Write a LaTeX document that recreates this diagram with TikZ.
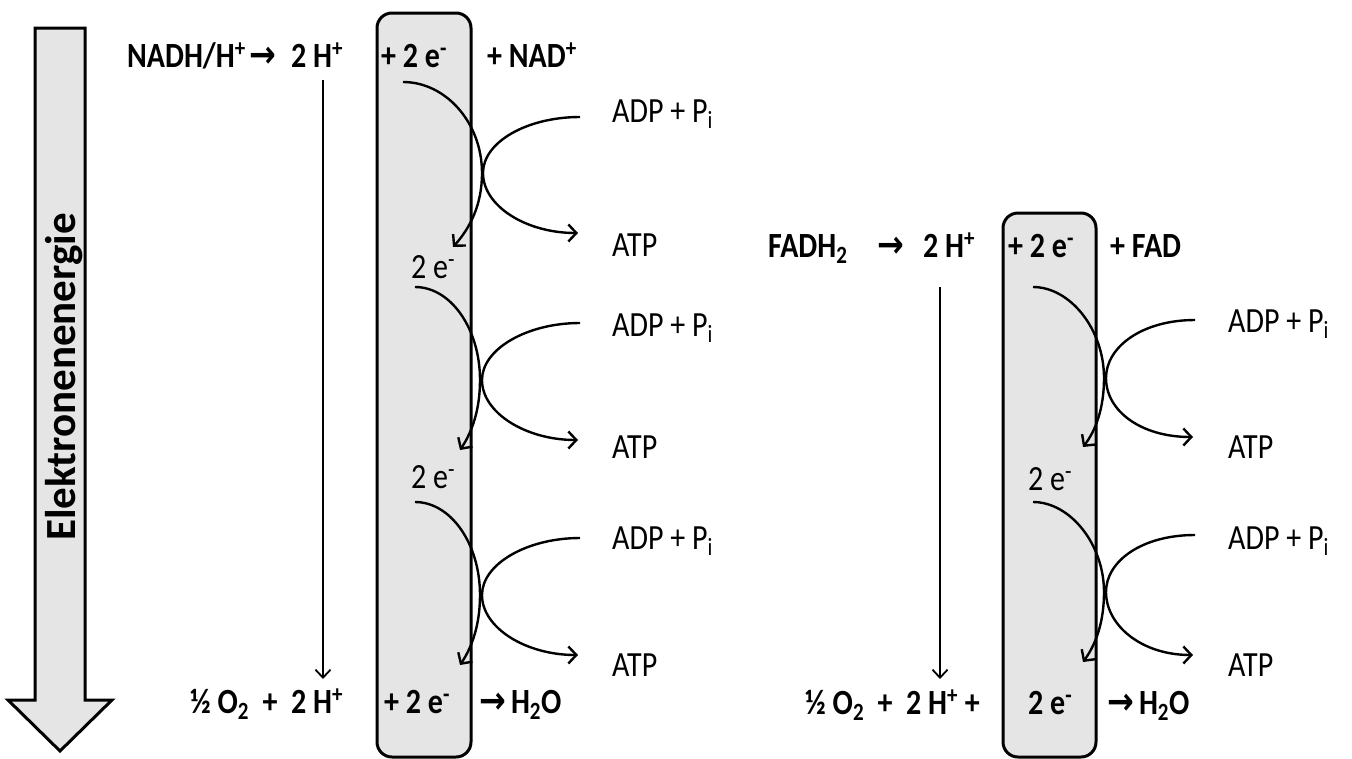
\documentclass[tikz,border=0pt]{standalone}
\usepackage{fontspec}
\setmainfont{Carlito}
\newfontfamily\symf{DejaVu Sans}
\usetikzlibrary{arrows.meta}
\newcommand{\rar}{{\symf\bfseries\fontsize{32}{34}\selectfont →}}
\newcommand{\T}[1]{\scalebox{1}[1.18]{#1}}
\begin{document}
\begin{tikzpicture}[x=1pt,y=-1pt,
  txt/.style={inner sep=0pt, anchor=base west, font=\fontsize{30}{36}\selectfont},
  btxt/.style={inner sep=0pt, anchor=base west, font=\fontsize{30}{36}\selectfont\bfseries},
  pillar/.style={draw=black, line width=3pt, fill=black!10, rounded corners=15pt},
  flow/.style={line width=2.4pt, -{Straight Barb[length=8pt,width=17pt,line width=2.4pt]}},
  thin/.style={line width=1.8pt, -{Straight Barb[length=8pt,width=15pt,line width=1.8pt]}}]
\useasboundingbox (0,0) rectangle (1352,758);

% energy arrow
\draw[line width=3pt, fill=black!10, line join=miter]
  (35,28) -- (85,28) -- (85,700) -- (112,700) -- (60,751) -- (8,700) -- (35,700) -- cycle;
\node[rotate=90, anchor=base, inner sep=0pt, font=\fontsize{43}{48}\selectfont\bfseries] (energy) at (75,377) {Elektronenenergie};

% boxes
\draw[pillar] (377,13) rectangle (471,757);
\draw[pillar] (1003,213) rectangle (1096,757);

% left top row
\node[btxt] (nadh) at (127,67) {\T{NADH/H\textsuperscript{+}}};
\node[btxt] (ar1) at (249,67) {\T{\rar}};
\node[btxt] (hL) at (291,67) {\T{2 H\textsuperscript{+}}};
\node[btxt] (eL) at (381,67) {\T{+ 2 e\textsuperscript{-}}};
\node[btxt] (nad) at (487,67) {\T{+ NAD\textsuperscript{+}}};
% left bottom row
\node[btxt] (o2L) at (190,713) {\T{½ O\textsubscript{2}~~+~~2 H\textsuperscript{+}}};
\node[btxt] (ebL) at (384,713) {\T{+ 2 e\textsuperscript{-}}};
\node[btxt] (h2oL) at (479,713) {\T{\rar\,H\textsubscript{2}O}};

% right top row
\node[btxt] (fadh) at (768,257) {\T{FADH\textsubscript{2}}};
\node[btxt] (ar2) at (877,257) {\T{\rar}};
\node[btxt] (hR) at (923,257) {\T{2 H\textsuperscript{+}}};
\node[btxt] (eR) at (1008,257) {\T{+ 2 e\textsuperscript{-}}};
\node[btxt] (fad) at (1110,257) {\T{+ FAD}};
% right bottom row
\node[btxt] (o2R) at (805,714) {\T{½ O\textsubscript{2}~~+~~2 H\textsuperscript{+} +}};
\node[btxt] (ebR) at (1028,714) {\T{2 e\textsuperscript{-}}};
\node[btxt] (h2oR) at (1107,714) {\T{\rar\,H\textsubscript{2}O}};

% left labels
\node[txt] (adpL1) at (612,122) {\T{ADP + P\textsubscript{i}}};
\node[txt] (atpL1) at (612,256) {\T{ATP}};
\node[txt] (eL2) at (411,278) {\T{2 e\textsuperscript{-}}};
\node[txt] (adpL2) at (612,336) {\T{ADP + P\textsubscript{i}}};
\node[txt] (atpL2) at (612,458) {\T{ATP}};
\node[txt] (eL3) at (411,488) {\T{2 e\textsuperscript{-}}};
\node[txt] (adpL3) at (612,549) {\T{ADP + P\textsubscript{i}}};
\node[txt] (atpL3) at (612,676) {\T{ATP}};

% right labels
\node[txt] (adpR1) at (1228,332) {\T{ADP + P\textsubscript{i}}};
\node[txt] (atpR1) at (1228,458) {\T{ATP}};
\node[txt] (eR2) at (1028,490) {\T{2 e\textsuperscript{-}}};
\node[txt] (adpR2) at (1228,549) {\T{ADP + P\textsubscript{i}}};
\node[txt] (atpR2) at (1228,676) {\T{ATP}};

% vertical H+ arrows
\coordinate (vL1) at (323,80);  \coordinate (vL2) at (323,679);
\coordinate (vR1) at (940,287); \coordinate (vR2) at (940,679);
\draw[thin] (vL1) -- (vL2);
\draw[thin] (vR1) -- (vR2);

% left curved arrows
\draw[flow] (403,82) .. controls (446,82) and (482,123) .. (482,173)
                     .. controls (482,205) and (470,228) .. (453,247);
\draw[flow] (580,117) .. controls (527,117) and (483,142) .. (483,173)
                      .. controls (483,206) and (526,233) .. (578,233);
\draw[flow] (415,287) .. controls (451,287) and (480,329) .. (480,380)
                      .. controls (480,410) and (472,432) .. (460,450);
\draw[flow] (580,323) .. controls (527,323) and (482,349) .. (482,380)
                      .. controls (482,413) and (526,440) .. (578,440);
\draw[flow] (415,502) .. controls (451,502) and (480,544) .. (480,595)
                      .. controls (480,625) and (472,647) .. (460,665);
\draw[flow] (580,538) .. controls (527,538) and (482,564) .. (482,595)
                      .. controls (482,628) and (526,655) .. (578,655);

% right curved arrows
\draw[flow] (1033,287) .. controls (1070,287) and (1104,329) .. (1104,378)
                       .. controls (1104,408) and (1096,430) .. (1083,447);
\draw[flow] (1195,320) .. controls (1142,320) and (1106,347) .. (1106,378)
                       .. controls (1106,411) and (1141,437) .. (1193,437);
\draw[flow] (1033,502) .. controls (1070,502) and (1104,544) .. (1104,592)
                       .. controls (1104,622) and (1096,644) .. (1083,662);
\draw[flow] (1195,535) .. controls (1142,535) and (1106,561) .. (1106,592)
                       .. controls (1106,625) and (1141,655) .. (1193,655);
\end{tikzpicture}
\end{document}
